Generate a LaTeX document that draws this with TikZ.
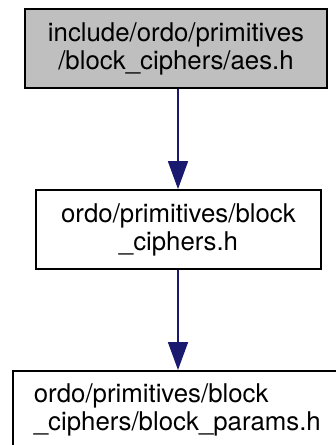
\documentclass[tikz,border=0pt]{standalone}
\usepackage{fontspec}
\setmainfont{TeX Gyre Heros}
\usetikzlibrary{arrows.meta}
\definecolor{edgeblue}{HTML}{191970}
\definecolor{nodegray}{HTML}{BFBFBF}
\tikzset{
  filebox/.style={draw=black, line width=1.8pt, rectangle, inner sep=0pt,
    font=\fontsize{25.8}{28}\selectfont, text=black},
  dep/.style={draw=edgeblue, line width=1.7pt, -{Triangle[length=28pt,width=20pt]}, edgeblue}
}
\begin{document}
\begin{tikzpicture}[x=1pt,y=1pt]
\useasboundingbox (0,0) rectangle (336,-445);
\clip (0,0) rectangle (336,-445);
\node[filebox, fill=nodegray, minimum width=302pt, minimum height=79pt, align=center]
  (aes) at (176,-48.5) {include/ordo/primitives\\/block\_ciphers/aes.h};
\node[filebox, minimum width=285pt, minimum height=79pt, align=center]
  (bc) at (178.5,-229.5) {ordo/primitives/block\\\_ciphers.h};
\node[filebox, anchor=north west, minimum width=340pt, minimum height=79pt,
  text width=300pt, inner xsep=21pt, align=left]
  (bp) at (12,-370) {ordo/primitives/block\\\_ciphers/block\_params.h};
\coordinate (bptop) at (178,-370);
\draw[dep] (aes.south -| 178,0) -- (bc.north -| 178,0);
\draw[dep] (bc.south -| 178,0) -- (bptop);
\end{tikzpicture}
\end{document}
